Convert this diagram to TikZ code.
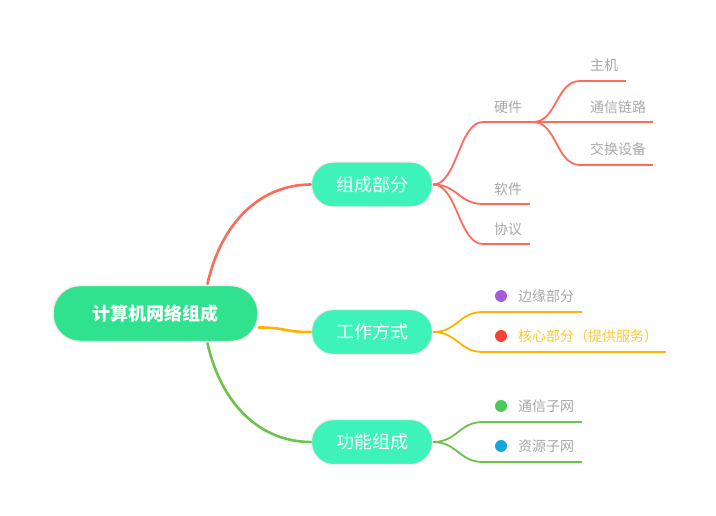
\documentclass[tikz,border=0pt]{standalone}
\usepackage{fontspec}
\setmainfont{Noto Sans CJK SC}
\usetikzlibrary{positioning}
\definecolor{rootg}{HTML}{30E28E}
\definecolor{subg}{HTML}{3DF3BA}
\definecolor{edgepink}{HTML}{FBEAEA}
\definecolor{cred}{HTML}{FF6B5B}
\definecolor{corange}{HTML}{FFB300}
\definecolor{cgreen}{HTML}{6CC24A}
\definecolor{leafgray}{HTML}{A8A8A8}
\definecolor{dpurple}{HTML}{A65BD6}
\definecolor{dred}{HTML}{F44336}
\definecolor{dgreen}{HTML}{4CC85A}
\definecolor{dblue}{HTML}{10A6E0}
\definecolor{tyellow}{HTML}{FFC62E}
\tikzset{
  rootbox/.style={fill=rootg,draw=edgepink,line width=1.5pt,rounded corners=27pt,minimum width=205pt,minimum height=56pt,text=white,font=\fontsize{18}{20}\selectfont\bfseries,inner sep=0pt},
  subbox/.style={fill=subg,draw=edgepink,line width=1.2pt,rounded corners=22pt,minimum width=121pt,minimum height=45pt,text=white,font=\fontsize{18}{20}\selectfont,inner sep=0pt},
  leaf/.style={anchor=west,text=leafgray,font=\fontsize{14}{16}\selectfont,inner sep=0pt},
  bigline/.style={line width=2.6pt,line cap=round},
  smallline/.style={line width=1.8pt},
  dot/.style={circle,inner sep=0pt,minimum size=12pt},
}
\newcommand{\sbranch}[3]{\draw[smallline,#3] (#1) .. controls +(24,0) and +(-24,0) .. (#2);}
\begin{document}
\begin{tikzpicture}[x=1pt,y=-1pt]
\useasboundingbox (0,0) rectangle (716,516);
% root and subtopics
\node[rootbox] (root) at (155.5,313.5) {计算机网络组成};
\node[subbox] (a1) at (372,184.5) {组成部分};
\node[subbox] (a2) at (372,332) {工作方式};
\node[subbox] (a3) at (372,442) {功能组成};
% main connectors
\draw[bigline,cred] ([xshift=52pt,yshift=1pt]root.north) .. controls +(14,-62) and +(-50,0) .. (a1.west);
\draw[bigline,corange] ([yshift=-14pt]root.east) .. controls +(28,0) and +(-28,0) .. (a2.west);
\draw[bigline,cgreen] ([xshift=52pt,yshift=-1pt]root.south) .. controls +(14,62) and +(-50,0) .. (a3.west);
% red branch
\coordinate (hwS) at (483,122); \coordinate (hwE) at (533,122);
\coordinate (zjS) at (580,81); \coordinate (zjE) at (626,81);
\coordinate (txE) at (653,122);
\coordinate (jhS) at (580,165); \coordinate (jhE) at (653,165);
\coordinate (rjS) at (483,204); \coordinate (rjE) at (530,204);
\coordinate (xyS) at (483,244); \coordinate (xyE) at (530,244);
\sbranch{a1.east}{hwS}{cred} \draw[smallline,cred] (hwS) -- (hwE);
\sbranch{hwE}{zjS}{cred} \draw[smallline,cred] (zjS) -- (zjE);
\draw[smallline,cred] (hwE) -- (txE);
\sbranch{hwE}{jhS}{cred} \draw[smallline,cred] (jhS) -- (jhE);
\sbranch{a1.east}{rjS}{cred} \draw[smallline,cred] (rjS) -- (rjE);
\sbranch{a1.east}{xyS}{cred} \draw[smallline,cred] (xyS) -- (xyE);
\node[leaf] (hw) at (494,107) {硬件};
\node[leaf] (zj) at (590,65) {主机};
\node[leaf] (tx) at (590,107) {通信链路};
\node[leaf] (jh) at (590,149) {交换设备};
\node[leaf] (rj) at (494,189) {软件};
\node[leaf] (xy) at (494,229) {协议};
% orange branch
\coordinate (byS) at (483,312); \coordinate (byE) at (582,312);
\coordinate (hxS) at (483,352); \coordinate (hxE) at (666,352);
\sbranch{a2.east}{byS}{corange} \draw[smallline,corange] (byS) -- (byE);
\sbranch{a2.east}{hxS}{corange} \draw[smallline,corange] (hxS) -- (hxE);
\node[dot,fill=dpurple] (d1) at (501,296) {};
\node[leaf] (by) at (518,296) {边缘部分};
\node[dot,fill=dred] (d2) at (501,336) {};
\node[leaf,text=tyellow] (hx) at (518,336) {核心部分（提供服务）};
% green branch
\coordinate (txwS) at (483,422); \coordinate (txwE) at (582,422);
\coordinate (zywS) at (483,462); \coordinate (zywE) at (582,462);
\sbranch{a3.east}{txwS}{cgreen} \draw[smallline,cgreen] (txwS) -- (txwE);
\sbranch{a3.east}{zywS}{cgreen} \draw[smallline,cgreen] (zywS) -- (zywE);
\node[dot,fill=dgreen] (d3) at (501,406) {};
\node[leaf] (txw) at (518,406) {通信子网};
\node[dot,fill=dblue] (d4) at (501,446) {};
\node[leaf] (zyw) at (518,446) {资源子网};
\end{tikzpicture}
\end{document}
